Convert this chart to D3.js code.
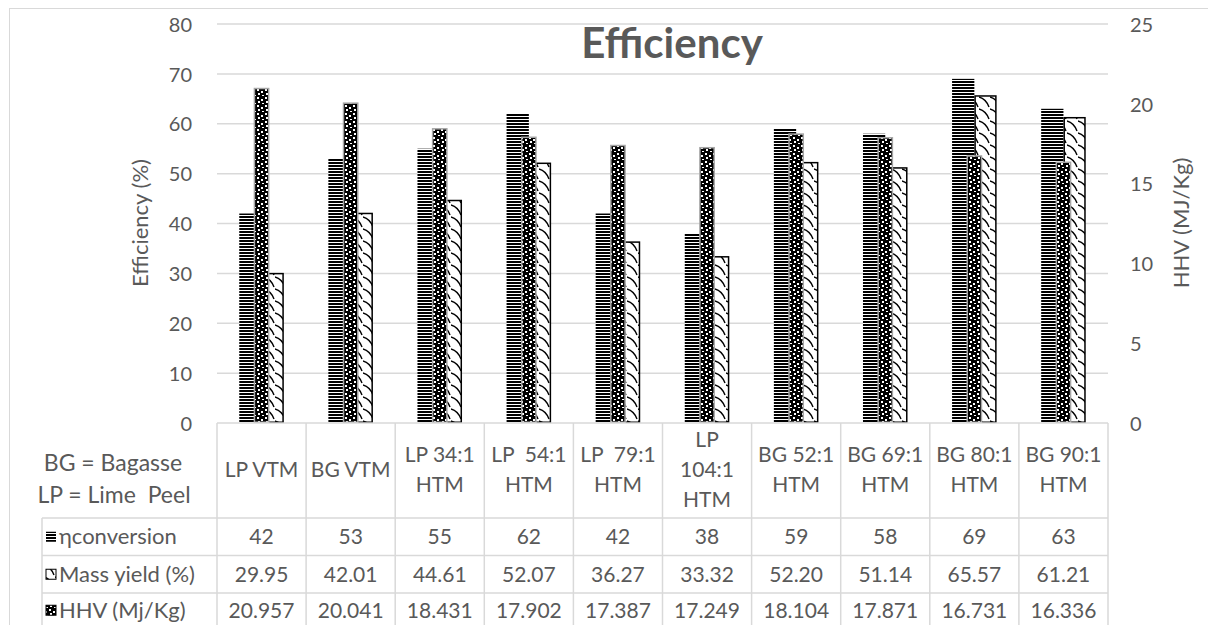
<!DOCTYPE html>
<html><head><meta charset="utf-8">
<script src="https://cdn.jsdelivr.net/npm/d3@7"></script>
<style>
html,body{margin:0;padding:0;background:#fff;}
text{font-family:Lato,"Open Sans",sans-serif;fill:#595959;}
</style></head>
<body><svg id="c" width="1208" height="625"></svg>
<script>
const categories = [["LP VTM"],["BG VTM"],["LP 34:1","HTM"],["LP  54:1","HTM"],["LP  79:1","HTM"],["LP","104:1","HTM"],["BG 52:1","HTM"],["BG 69:1","HTM"],["BG 80:1","HTM"],["BG 90:1","HTM"]];
const conversion = [42,53,55,62,42,38,59,58,69,63];
const massYield = [29.95,42.01,44.61,52.07,36.27,33.32,52.20,51.14,65.57,61.21];
const hhv = [20.957,20.041,18.431,17.902,17.387,17.249,18.104,17.871,16.731,16.336];
const massLabels = ["29.95","42.01","44.61","52.07","36.27","33.32","52.20","51.14","65.57","61.21"];
const hhvLabels = ["20.957","20.041","18.431","17.902","17.387","17.249","18.104","17.871","16.731","16.336"];
const leftTicks = [0,10,20,30,40,50,60,70,80];
const rightTicks = [0,5,10,15,20,25];

const svg = d3.select("#c");
const W=1208,H=625;
const L=217,R=1108,T=24,B=423;
const grid="#d9d9d9";

// patterns
const defs = svg.append("defs");
const ps = defs.append("pattern").attr("id","stripes").attr("patternUnits","userSpaceOnUse").attr("width",6).attr("height",3);
ps.append("rect").attr("width",6).attr("height",3).attr("fill","#fff");
ps.append("rect").attr("width",6).attr("height",2).attr("fill","#000");
const pd = defs.append("pattern").attr("id","dots").attr("patternUnits","userSpaceOnUse").attr("width",8).attr("height",8);
pd.append("rect").attr("width",8).attr("height",8).attr("fill","#000");
[[1,1],[5,3],[2,5],[6,7]].forEach(([x,y])=>pd.append("rect").attr("x",x).attr("y",y).attr("width",2).attr("height",2).attr("fill","#fff"));
const pw = defs.append("pattern").attr("id","wave").attr("patternUnits","userSpaceOnUse").attr("width",11).attr("height",12);
pw.append("rect").attr("width",11).attr("height",12).attr("fill","#fff");
pw.append("path").attr("d","M0,1 Q7,3 10,11").attr("fill","none").attr("stroke","#000").attr("stroke-width",1.4);

// chart border (top and left visible)
svg.append("rect").attr("x",9.5).attr("y",8.5).attr("width",1210).attr("height",630).attr("fill","none").attr("stroke","#d9d9d9");

const x = d3.scaleBand().domain(d3.range(categories.length)).range([L,R]).padding(0);
const bw = x.bandwidth();
const xs = d3.scaleBand().domain(["conv","mass"]).range([bw*0.25,bw*0.75]).padding(0);
const y = d3.scaleLinear().domain([0,80]).range([B,T]);
const y2 = d3.scaleLinear().domain([0,25]).range([B,T]);

// gridlines
svg.append("g").selectAll("line").data(leftTicks.filter(d=>d>0)).join("line")
  .attr("x1",L).attr("x2",R).attr("y1",d=>y(d)).attr("y2",d=>y(d)).attr("stroke",grid).attr("stroke-width",1.5);

// left axis
const la = svg.append("g").attr("transform",`translate(${L},0)`).call(d3.axisLeft(y).tickValues(leftTicks).tickSize(0).tickPadding(25));
la.select(".domain").remove();
la.selectAll("text").style("font-size","20px").attr("fill","#595959").attr("dy","0.36em");
// right axis
const ra = svg.append("g").attr("transform",`translate(${R},0)`).call(d3.axisRight(y2).tickValues(rightTicks).tickSize(0).tickPadding(22));
ra.select(".domain").remove();
ra.selectAll("text").style("font-size","20px").attr("fill","#595959").attr("dy","0.36em");

// bars
const g = svg.append("g");
g.selectAll(".c").data(conversion).join("rect")
  .attr("x",(d,i)=>x(i)+xs("conv")).attr("width",xs.bandwidth())
  .attr("y",d=>y(d)).attr("height",d=>B-y(d)).attr("fill","url(#stripes)");
g.selectAll(".m").data(massYield).join("rect")
  .attr("x",(d,i)=>x(i)+xs("mass")+0.75).attr("width",xs.bandwidth()-1.5)
  .attr("y",d=>y(d)).attr("height",d=>B-y(d)-0.75).attr("fill","url(#wave)").attr("stroke","#000").attr("stroke-width",1.5);
const hw = bw*0.16;
g.selectAll(".h").data(hhv).join("rect")
  .attr("x",(d,i)=>x(i)+bw/2-hw/2).attr("width",hw)
  .attr("y",d=>y2(d)).attr("height",d=>B-y2(d)-0.75).attr("fill","url(#dots)").attr("stroke","#a6a6a6").attr("stroke-width",1.5);

// title
svg.append("text").attr("x",672).attr("y",58).attr("text-anchor","middle").style("font-size","42px").style("font-weight","bold").text("Efficiency");

// axis titles
svg.append("text").attr("transform","translate(140,223) rotate(-90)").attr("dy","0.35em").attr("text-anchor","middle").style("font-size","22px").text("Efficiency (%)");
svg.append("text").attr("transform","translate(1181,223) rotate(-90)").attr("dy","0.35em").attr("text-anchor","middle").style("font-size","22px").text("HHV (MJ/Kg)");

// data table
const hdrB = 518, rowH = 37.5;
const tb = svg.append("g");
tb.append("line").attr("x1",L).attr("x2",R).attr("y1",B).attr("y2",B).attr("stroke",grid).attr("stroke-width",1.5);
tb.selectAll(".v").data(d3.range(categories.length+1)).join("line")
  .attr("x1",i=>i<categories.length?x(i):R).attr("x2",i=>i<categories.length?x(i):R)
  .attr("y1",B).attr("y2",H+5).attr("stroke",grid).attr("stroke-width",1.5);
tb.selectAll(".h").data(d3.range(3)).join("line")
  .attr("x1",42).attr("x2",R).attr("y1",i=>hdrB+i*rowH).attr("y2",i=>hdrB+i*rowH).attr("stroke",grid).attr("stroke-width",1.5);
tb.append("line").attr("x1",42).attr("x2",42).attr("y1",hdrB).attr("y2",H+5).attr("stroke",grid).attr("stroke-width",1.5);

// category labels
categories.forEach((lines,i)=>{
  const t = tb.append("text").attr("text-anchor","middle").style("font-size","21px").style("white-space","pre");
  const n = lines.length;
  lines.forEach((s,k)=>{
    t.append("tspan").attr("x",x(i)+bw/2).attr("y",470+(k-(n-1)/2)*30).attr("dy","0.35em").text(s);
  });
});
tb.append("text").attr("x",113).attr("y",463).attr("dy","0.35em").attr("text-anchor","middle").style("font-size","23px").text("BG = Bagasse");
tb.append("text").attr("x",114).attr("y",495).attr("dy","0.35em").attr("text-anchor","middle").style("font-size","23px").style("white-space","pre").text("LP = Lime  Peel");

const rows = [
  {name:"ηconversion", pat:"stripes", vals:conversion.map(String)},
  {name:"Mass yield (%)", pat:"wave", vals:massLabels},
  {name:"HHV (Mj/Kg)", pat:"dots", vals:hhvLabels}
];
rows.forEach((r,k)=>{
  const cy = hdrB + k*rowH + rowH/2 - (k===2?1.5:0);
  tb.append("rect").attr("x",46).attr("y",cy-5).attr("width",10).attr("height",10).attr("fill",`url(#${r.pat})`).attr("stroke",r.pat==="stripes"?"none":"#000").attr("stroke-width",1);
  tb.append("text").attr("x",59).attr("y",cy).attr("dy","0.35em").style("font-size","22px").text(r.name);
  r.vals.forEach((v,i)=>{
    tb.append("text").attr("x",x(i)+bw/2).attr("y",cy).attr("dy","0.35em").attr("text-anchor","middle").style("font-size","21px").text(v);
  });
});
</script></body></html>
